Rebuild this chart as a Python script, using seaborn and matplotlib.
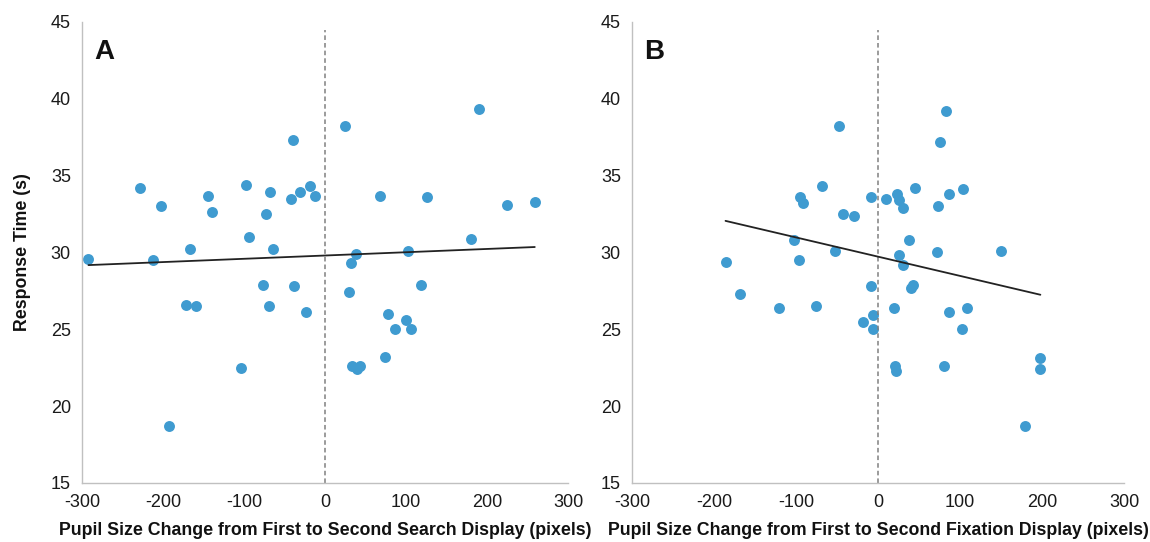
import numpy as np
import matplotlib
matplotlib.use("Agg")
import matplotlib.pyplot as plt
import seaborn as sns

# Panel A: pupil change between search displays vs response time
search_change = [-292, -228, -203, -212, -167, -144, -140, -97, -94, -73, -68, -64,
                 -42, -39, -31, -18, -12, 25, 38, 32, 68, 103, 126, 180, 190, 225, 259,
                 -76, -38, -69, -23, -171, -159, -104, -192, 30, 119, 78, 100, 86, 106,
                 74, 33, 43, 39]
search_rt = [29.6, 34.2, 33.0, 29.5, 30.2, 33.7, 32.6, 34.4, 31.0, 32.5, 33.9, 30.2,
             33.5, 37.3, 33.9, 34.3, 33.7, 38.2, 29.9, 29.3, 33.7, 30.1, 33.6, 30.9, 39.3,
             33.1, 33.3, 27.9, 27.8, 26.5, 26.1, 26.6, 26.5, 22.5, 18.7, 27.4, 27.9, 26.0,
             25.6, 25.0, 25.0, 23.2, 22.6, 22.6, 22.4]

# Panel B: pupil change between fixation displays vs response time
fix_change = [-186, -103, -96, -95, -92, -68, -53, -47, -43, -29, -9, 10, 23, 26, 31,
              45, 38, 26, 31, 72, 73, 75, 83, 87, 104, 150, -168, -121, -76, -8, -18,
              -6, -6, 19, 40, 43, 86, 109, 103, 21, 22, 81, 197, 198, 179]
fix_rt = [29.4, 30.8, 29.5, 33.6, 33.2, 34.3, 30.1, 38.2, 32.5, 32.4, 33.6, 33.5, 33.8,
          33.4, 32.9, 34.2, 30.8, 29.8, 29.2, 30.0, 33.0, 37.2, 39.2, 33.8, 34.1, 30.1,
          27.3, 26.4, 26.5, 27.8, 25.5, 25.9, 25.0, 26.4, 27.7, 27.9, 26.1, 26.4, 25.0,
          22.6, 22.3, 22.6, 23.1, 22.4, 18.7]

panels = [
    ("A", search_change, search_rt, "Pupil Size Change from First to Second Search Display (pixels)"),
    ("B", fix_change, fix_rt, "Pupil Size Change from First to Second Fixation Display (pixels)"),
]

sns.set_style("white")
plt.rcParams["font.family"] = ["Liberation Sans", "DejaVu Sans"]
plt.rcParams["axes.unicode_minus"] = False

fig = plt.figure(figsize=(11.5, 5.42), dpi=100)
axes = [fig.add_axes([0.0713, 0.109, 0.4226, 0.8506]),
        fig.add_axes([0.5496, 0.109, 0.4278, 0.8506])]

dot_color = "#3f9bd0"
spine_color = "#c0c0c0"

for ax, (letter, xs, ys, xlabel) in zip(axes, panels):
    sns.regplot(x=np.array(xs), y=np.array(ys), ax=ax, ci=None,
                scatter_kws=dict(s=62, color=dot_color, alpha=1, linewidths=0),
                line_kws=dict(color="#222222", lw=1.3))
    ax.plot([0, 0], [15, 44.5], ls=(0, (3, 2)), color="#808080", lw=1.1, zorder=1)
    ax.set_xlim(-300, 300)
    ax.set_ylim(15, 45)
    ax.set_xticks(range(-300, 301, 100))
    ax.set_yticks(range(15, 46, 5))
    for side in ["top", "right"]:
        ax.spines[side].set_visible(False)
    for side in ["left", "bottom"]:
        ax.spines[side].set_color(spine_color)
        ax.spines[side].set_linewidth(1.0)
    ax.tick_params(direction="out", length=4, width=1, color=spine_color,
                   labelsize=13, labelcolor="#1a1a1a", pad=4)
    ax.set_xlabel(xlabel, fontsize=12.8, fontweight="bold", color="#111111")
    ax.xaxis.set_label_coords(0.5, -0.085)
    ax.text(0.025, 0.935, letter, transform=ax.transAxes, fontsize=20,
            fontweight="bold", va="center", ha="left", color="#111111")

axes[0].set_ylabel("Response Time (s)", fontsize=12.8, fontweight="bold", color="#111111")
axes[0].yaxis.set_label_coords(-0.105, 0.5)

fig.savefig("out.png", dpi=100)
